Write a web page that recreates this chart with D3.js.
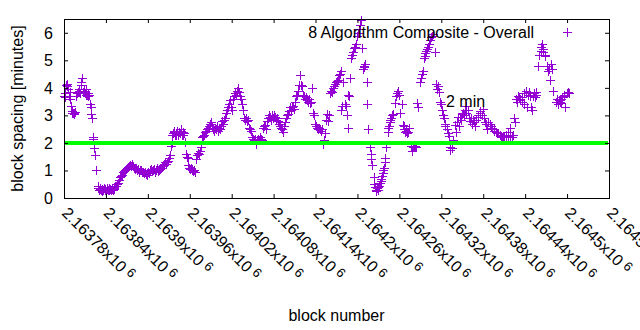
<!DOCTYPE html>
<html><head><meta charset="utf-8">
<script src="https://cdn.jsdelivr.net/npm/d3@7"></script>
<style>html,body{margin:0;padding:0;background:#fff;} svg{display:block;font-family:"Liberation Sans",Arial,sans-serif;}</style>
</head><body><svg id="c" width="640" height="330"></svg>
<script>
// ---- data ----
const firstBlock = 2163780;
// [block offset from firstBlock, block spacing in minutes]
const samples = [
[0,3.72],[1,3.8],[2,3.65],[3,4.1],[4,4.15],[5,4.05],[6,3.95],[7,3.7],[8,3.85],[9,3.6],[10,3.35],[11,3.15],[12,3.1],[13,3.1],[14,3.05],[15,3.08],[16,3.12],[17,3.7],[19,3.8],[20,3.85],[21,3.95],[22,3.9],[23,3.8],[24,4.2],[25,4.1],[26,4.35],[27,3.85],[28,3.95],[29,3.9],[30,3.8],[31,3.95],[32,3.75],[33,3.75],[34,3.7],[35,3.8],[36,3.75],[37,3.4],[38,3.3],[39,3.05],[40,2.9],[41,2.2],[42,2.15],[43,1.8],[44,1.55],[46,1.0],[48,0.45],
[49,0.35],[50,0.3],[51,0.38],[52,0.33],[53,0.28],[54,0.32],[55,0.27],[56,0.3],[57,0.36],[58,0.33],[59,0.3],[60,0.27],[61,0.36],[62,0.33],[63,0.3],[64,0.38],[65,0.28],[66,0.32],[67,0.3],[68,0.33],[69,0.35],[70,0.3],[71,0.32],[72,0.38],[73,0.42],[74,0.45],
[76,0.5],[77,0.55],[79,0.65],[80,0.75],[82,0.8],[83,0.85],[84,0.95],[86,0.98],[87,1.0],[89,1.05],[90,1.1],[92,1.12],[93,1.15],[94,1.2],[96,1.18],[97,1.22],[99,1.15],[100,1.08],[102,1.05],[103,1.1],[104,1.0],[106,1.05],[107,0.95],[109,1.02],[110,1.0],[112,0.95],[113,0.93],[114,0.9],[116,0.95],[117,0.88],[119,0.85],[120,0.95],[122,0.9],[123,1.0],[124,1.05],[126,0.98],[127,1.0],[129,1.05],[130,0.95],[132,1.0],[133,1.1],[134,0.98],[136,1.0],[137,1.05],[139,1.1],[140,1.15],[142,1.2],[143,1.25],[145,1.3],[146,1.25],[147,1.3],[149,1.35],[150,1.45],[152,1.55],[153,1.9],
[154,2.0],[155,2.3],[156,2.35],[157,2.4],[158,2.45],[159,2.3],[160,2.35],[161,2.3],[162,2.45],[163,2.3],[164,2.38],[165,2.4],[166,2.35],[167,2.5],[168,2.42],[169,2.3],[170,2.4],[171,2.3],[172,2.35],[173,2.05],[175,1.6],[176,1.5],[177,1.45],[178,1.2],[179,1.1],[180,1.05],[182,1.1],[183,1.0],[185,0.98],[186,1.0],[187,0.95],[189,1.4],[190,1.55],[192,1.65],[193,1.6],[195,1.7],[196,1.85],
[197,2.2],[199,2.25],[200,2.3],[202,2.4],[203,2.45],[204,2.5],[206,2.55],[207,2.6],[209,2.7],[210,2.75],[212,2.6],[213,2.5],[215,2.45],[216,2.55],[217,2.5],[219,2.6],[220,2.45],[222,2.55],[223,2.5],[225,2.6],[226,2.8],[227,2.7],[229,2.85],[230,2.9],[232,3.1],[233,3.2],[235,3.3],[236,3.4],[237,3.55],[239,3.3],[240,3.2],[242,3.6],[243,3.7],[245,3.8],[246,3.75],[248,3.9],[249,4.0],[250,3.85],[252,3.7],[253,3.6],[255,3.4],[256,3.2],[258,2.9],[259,2.85],[260,2.9],[262,2.8],[263,2.85],[265,2.55],[266,2.5],[268,2.45],
[269,2.2],[270,2.15],[272,2.1],[273,2.15],[275,1.95],[276,2.1],[278,2.15],[279,2.1],[280,2.2],[282,2.15],[283,2.1],[285,2.55],[286,2.6],[288,2.65],[289,2.5],[290,2.8],[292,2.9],[293,3.0],[295,2.95],[296,2.85],[298,3.0],[299,2.9],[300,3.0],[302,2.95],[303,2.85],[305,2.9],[306,2.8],[308,2.7],[309,2.6],[310,2.55],[312,2.5],[313,2.4],[315,2.6],[316,2.75],[318,2.9],[319,3.0],[320,3.05],[322,3.15],[323,3.3],[325,3.2],[326,3.3],[328,3.35],[329,3.25],[331,3.5],[332,3.7],[333,3.75],[335,3.9],[336,4.1],[338,4.45],[339,4.1],[341,4.05],[342,3.75],[343,3.7],[345,3.6],[346,3.65],[348,3.55],[349,3.5],[351,3.6],[352,3.45],[353,3.5],[355,4.0],[356,3.1],[358,3.0],[359,2.7],[360,2.6],[362,2.55],[363,2.5],[365,2.55],[366,2.5],[368,2.45],[369,2.5],[371,1.95],[372,2.1],[373,2.35],[375,2.85],[376,3.05],[378,2.8],[379,3.0],
[381,3.8],[382,3.9],[384,3.85],[385,4.0],[386,4.05],[388,4.15],[389,4.2],[391,4.25],[392,4.3],[394,4.45],[395,4.5],[396,4.6],[397,3.2],[398,3.35],[399,4.2],[402,3.4],[404,3.35],[405,3.0],[406,2.55],[407,3.75],[408,3.7],[409,4.35],[411,5.1],[412,5.2],[414,5.3],[415,5.45],[416,5.5],[418,5.6],[419,5.9],[421,6.0],[422,6.15],[424,6.3],[425,6.45],
[427,5.45],[428,4.7],[429,4.8],[430,4.75],[431,4.85],[433,4.2],[434,3.4],[435,2.5],[438,1.85],[439,1.6],[440,1.4],[441,1.2],[443,0.75],[444,0.5],[445,0.4],[446,0.3],[447,0.25],[448,0.35],[449,0.3],[450,0.4],[451,0.45],[452,0.55],[453,0.6],[454,0.7],[455,0.8],[456,0.9],[457,1.0],[458,1.1],[459,1.3],[460,1.45],[461,1.85],[463,2.4],[464,2.55],[465,2.6],[466,2.75],[467,2.85],[468,2.9],[470,3.0],[471,3.05],[474,3.45],[475,3.7],[477,3.8],[478,3.9],[479,3.75],[481,3.1],[484,3.4],[485,2.65],[486,2.5],[487,2.6],[488,2.4],[490,2.45],[491,2.35],[493,2.4],[494,2.55],[497,1.9],[498,1.7],[499,1.85],[500,1.9],[501,1.85],[503,1.9],[504,1.85],[505,3.45],[507,3.3],
[510,4.2],[511,4.35],[513,4.5],[514,4.6],[515,5.1],[516,5.15],[517,5.25],[518,5.35],[520,5.4],[521,5.5],[523,5.6],[524,5.75],[525,5.85],[527,5.9],[528,5.95],[531,5.3],[533,4.15],[534,3.95],[535,4.05],[536,3.85],[538,3.5],[539,3.4],[541,3.2],[543,3.0],[544,2.9],[545,2.7],[546,2.6],[548,2.5],[549,2.35],[551,2.25],[552,1.85],[553,1.75],[555,1.8],[557,2.1],[560,2.65],[561,2.4],[563,2.75],[564,2.95],[565,2.6],[567,2.95],[568,2.85],[570,3.05],[571,3.1],[573,3.0],[574,3.2],[575,3.35],[576,3.1],[578,3.2],[579,2.9],[581,2.8],[582,2.9],
[584,2.7],[585,2.85],[587,2.75],[588,2.6],[590,2.85],[592,3.0],[593,2.95],[595,3.1],[596,3.15],[598,3.0],[599,3.25],[601,2.9],[602,2.75],[604,2.7],[605,2.5],[607,2.75],[610,2.7],[611,2.6],[612,2.55],[615,2.5],[616,2.45],[618,2.4],[619,2.35],[621,2.35],[624,2.3],[625,2.25],[627,2.2],[628,2.25],[630,2.2],[632,2.2],[633,2.3],[635,2.25],[636,2.4],[638,2.55],[639,2.2],[641,2.2],[642,2.3],[644,2.9],[645,2.75],
[647,3.6],[648,3.5],[650,3.7],[651,3.65],[652,3.6],[653,3.55],[655,3.5],[656,3.65],[658,3.4],[659,3.8],[661,3.9],[662,3.3],[664,3.75],[665,3.85],[667,3.7],[668,3.3],[670,3.2],[671,3.7],[673,3.8],[674,3.65],[675,3.75],[676,3.85],[678,4.8],[680,5.2],[682,5.35],[683,5.5],[684,5.6],[685,5.4],[686,5.3],[688,5.2],[689,5.15],[691,4.8],[692,4.6],[694,4.7],[695,4.3],[697,4.85],[698,4.7],[700,3.9],[704,3.5],[705,3.6],[707,3.4],[708,3.55],[710,3.5],[711,3.45],[712,3.6],[713,3.65],[715,3.7],[716,3.75],[717,3.3],[720,3.8],[721,3.85],[723,3.8]
];
const blocks = samples.map(d => firstBlock + d[0]);
const spacing = samples.map(d => d[1]);

const xTicks = [2163780,2163840,2163900,2163960,2164020,2164080,2164140,2164200,2164260,2164320,2164380,2164440,2164500,2164560];
const yTicks = [0,1,2,3,4,5,6];
const xDomain = [2163780, 2164560];
const yDomain = [0, 6.5];
const targetMinutes = 2;
const seriesTitle = "8 Algorithm Composite - Overall";
const targetLabel = "2 min";
const xAxisTitle = "block number";
const yAxisTitle = "block spacing [minutes]";

// ---- drawing ----
const L = 64, R = 609, T = 19, B = 198;
const purple = "#9400d3", green = "#00ff00";
const svg = d3.select("#c");
const x = d3.scaleLinear().domain(xDomain).range([L, R]);
const y = d3.scaleLinear().domain(yDomain).range([B, T]);

// points
const plus = "M-4,0.5h9M0.5,-4v9";
svg.append("g").selectAll("path").data(blocks.map((b,i)=>[b,spacing[i]])).join("path")
  .attr("d", plus)
  .attr("transform", d => `translate(${Math.round(x(d[0]))},${Math.round(y(d[1]))})`)
  .attr("fill","none").attr("stroke", purple).attr("stroke-width",1);

// target line
svg.append("line").attr("x1", L+1).attr("x2", R-1)
  .attr("y1", y(targetMinutes)).attr("y2", y(targetMinutes))
  .attr("stroke", green).attr("stroke-width", 4);

// axes (inward ticks, mirrored)
const tk = 4;
const ax = (g) => { g.select(".domain").remove(); g.selectAll("line").attr("stroke","#000"); };
svg.append("g").attr("transform",`translate(0,${B})`)
  .call(d3.axisBottom(x).tickValues(xTicks).tickSize(-tk).tickFormat("")).call(ax);
svg.append("g").attr("transform",`translate(0,${T})`)
  .call(d3.axisTop(x).tickValues(xTicks).tickSize(-tk).tickFormat("")).call(ax);
svg.append("g").attr("transform",`translate(${L},0)`)
  .call(d3.axisLeft(y).tickValues(yTicks).tickSize(-tk).tickFormat("")).call(ax);
svg.append("g").attr("transform",`translate(${R},0)`)
  .call(d3.axisRight(y).tickValues(yTicks).tickSize(-tk).tickFormat("")).call(ax);

svg.append("rect").attr("x", L+0.5).attr("y", T+0.5).attr("width", R-L).attr("height", B-T)
  .attr("fill","none").attr("stroke","#000").attr("stroke-width",1);

// y tick labels
svg.append("g").selectAll("text").data(yTicks).join("text")
  .attr("x", 53).attr("y", d => y(d)).attr("dy","0.36em")
  .attr("text-anchor","end").attr("font-size",16).attr("fill","#000")
  .text(d => d);

// x tick labels rotated
const mant = v => String(+(v/1e6).toFixed(5));
const xl = svg.append("g").selectAll("text").data(xTicks).join("text")
  .attr("transform", d => `translate(${x(d)+1},${B+12}) rotate(45)`)
  .attr("dy","0.36em").attr("font-size",16).attr("fill","#000");
xl.append("tspan").text(d => mant(d) + "x10");
xl.append("tspan").attr("dy", -4).attr("dx", 4).attr("font-size", 13).text("6");

// key
svg.append("text").attr("x", 534).attr("y", 37.5).attr("text-anchor","end")
  .attr("font-size",16).attr("fill","#000").text(seriesTitle);
svg.append("path").attr("d", plus).attr("transform","translate(567,32)")
  .attr("fill","none").attr("stroke",purple);

// "2 min" label
svg.append("text").attr("x", 446).attr("y", 107).attr("font-size",16).attr("fill","#000").text(targetLabel);

// axis titles
svg.append("text").attr("x", (L+R)/2).attr("y", 321).attr("text-anchor","middle")
  .attr("font-size",16).attr("fill","#000").text(xAxisTitle);
svg.append("text").attr("transform", `translate(23,${(T+B)/2}) rotate(-90)`).attr("text-anchor","middle")
  .attr("font-size",16).attr("fill","#000").text(yAxisTitle);
</script></body></html>
